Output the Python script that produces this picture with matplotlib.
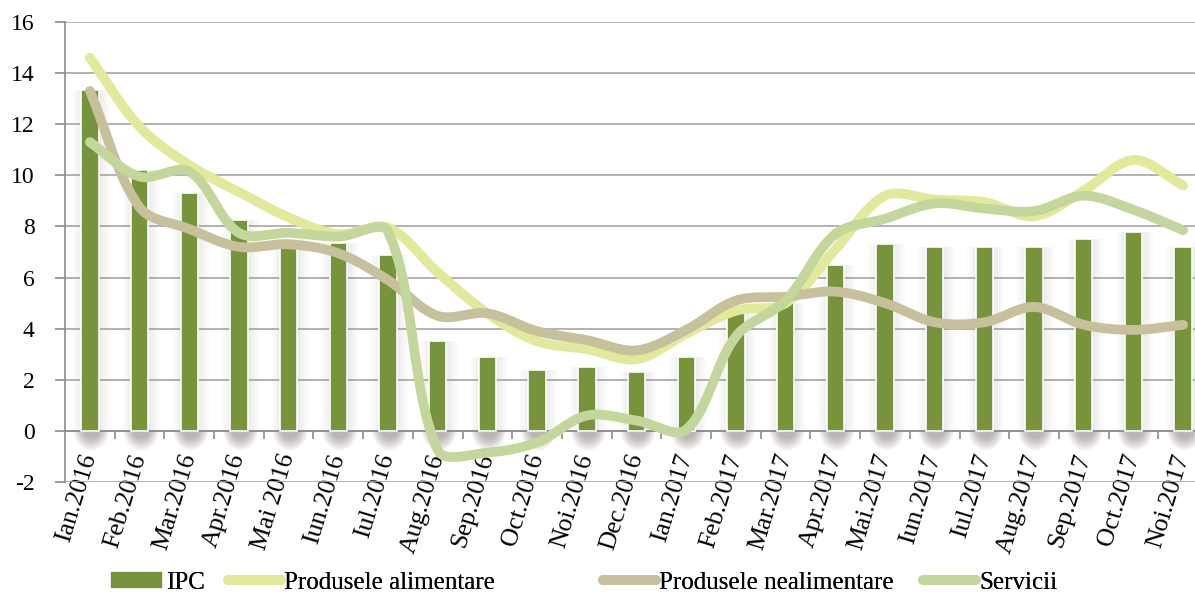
import matplotlib.pyplot as plt
import numpy as np
from matplotlib.patches import Ellipse, Rectangle

months = ["Ian.2016", "Feb.2016", "Mar.2016", "Apr.2016", "Mai 2016", "Iun.2016",
          "Iul.2016", "Aug.2016", "Sep.2016", "Oct.2016", "Noi.2016", "Dec.2016",
          "Ian.2017", "Feb.2017", "Mar.2017", "Apr.2017", "Mai.2017", "Iun.2017",
          "Iul.2017", "Aug.2017", "Sep.2017", "Oct.2017", "Noi.2017"]

ipc = [13.35, 10.2, 9.3, 8.25, 7.5, 7.35, 6.9, 3.5, 2.9, 2.4, 2.5, 2.3,
       2.9, 4.6, 5.0, 6.5, 7.3, 7.2, 7.2, 7.2, 7.5, 7.8, 7.2]
alimentare = [14.6, 11.9, 10.4, 9.35, 8.35, 7.7, 7.95, 6.2, 4.6, 3.5, 3.2, 2.8,
              3.8, 4.7, 5.0, 7.1, 9.2, 9.05, 8.95, 8.4, 9.4, 10.6, 9.6]
nealimentare = [13.3, 8.75, 7.9, 7.2, 7.3, 6.95, 5.9, 4.5, 4.6, 3.9, 3.55, 3.15,
                3.95, 5.1, 5.25, 5.45, 5.0, 4.25, 4.25, 4.85, 4.15, 3.95, 4.15]
servicii = [11.3, 9.95, 10.15, 7.75, 7.75, 7.6, 7.8, -0.75, -0.85, -0.45, 0.6, 0.4,
            0.05, 3.7, 5.1, 7.7, 8.3, 8.9, 8.7, 8.6, 9.2, 8.65, 7.85]

c_bar = "#77933c"
c_alim = "#e2e99a"
c_nealim = "#c7c09c"
c_serv = "#c3d69b"

# pixel size of one x unit and one y unit, used to weight the smoothing
PX_X, PX_Y = 49.7, 25.56


def smooth(y, n=30):
    # bezier through the points, tangents weighted by neighbouring segment lengths
    pts = np.column_stack([np.arange(len(y), dtype=float), np.asarray(y, float)])
    scale = np.array([PX_X, PX_Y])
    m = len(pts)
    cin, cout = pts.copy(), pts.copy()
    for i in range(m):
        a = pts[max(i - 1, 0)]
        b = pts[min(i + 1, m - 1)]
        tan = b - a
        d1 = np.linalg.norm((pts[i] - a) * scale)
        d2 = np.linalg.norm((b - pts[i]) * scale)
        if d1 + d2 == 0:
            continue
        cout[i] = pts[i] + tan * d2 / (d1 + d2) / 3
        cin[i] = pts[i] - tan * d1 / (d1 + d2) / 3
    t = np.linspace(0, 1, n, endpoint=False)[:, None]
    out = []
    for i in range(m - 1):
        p1, c1, c2, p2 = pts[i], cout[i], cin[i + 1], pts[i + 1]
        out.append((1 - t) ** 3 * p1 + 3 * (1 - t) ** 2 * t * c1
                   + 3 * (1 - t) * t ** 2 * c2 + t ** 3 * p2)
    out.append(pts[-1:])
    s = np.vstack(out)
    return s[:, 0], s[:, 1]


plt.rcParams['font.family'] = ['Liberation Serif', 'DejaVu Serif']

fig = plt.figure(figsize=(11.95, 5.94), dpi=100)
ax = fig.add_axes([0.0544, 0.1886, 0.9565, 0.7744])

x = np.arange(len(months))
ipc_arr = np.array(ipc)

# soft shadow around the bars
for k in range(5):
    ax.bar(x + 0.03, ipc_arr, width=0.38 + 0.09 * k, color="#9a9090",
           alpha=0.035, linewidth=0, zorder=1)

# blurred blob just under the axis
below = Rectangle((-1, -2), len(months) + 2, 2, transform=ax.transData)
for xi in x:
    for k in range(7):
        e = Ellipse((xi + 0.03, 0.05), width=0.7 - 0.06 * k, height=1.6 - 0.15 * k,
                    facecolor="#6e5a5a", alpha=0.08, linewidth=0, zorder=1)
        ax.add_patch(e)
        e.set_clip_path(below)

bars = ax.bar(x, ipc, width=0.35, color=c_bar, edgecolor="white", linewidth=1.2,
              zorder=3, label="IPC")

handles = [bars]
for vals, col, name in [(alimentare, c_alim, "Produsele alimentare"),
                        (nealimentare, c_nealim, "Produsele nealimentare"),
                        (servicii, c_serv, "Servicii")]:
    sx, sy = smooth(vals)
    ln, = ax.plot(sx, sy, color=col, lw=7, solid_capstyle="round", zorder=4, label=name)
    handles.append(ln)

ax.set_xlim(-0.5, len(months) - 0.5)
ax.set_ylim(-2, 16)
ax.set_yticks(range(-2, 17, 2))
ax.set_yticklabels([str(v) for v in range(-2, 17, 2)])
ax.yaxis.grid(True, color="#a6a6a6", lw=1.2, zorder=0)
ax.set_axisbelow(True)

ax.spines['top'].set_visible(False)
ax.spines['right'].set_visible(False)
ax.spines['bottom'].set_position(('data', 0))
ax.spines['bottom'].set_color("#8c8c8c")
ax.spines['bottom'].set_linewidth(1.2)
ax.spines['bottom'].set_zorder(2)
ax.spines['left'].set_color("#8c8c8c")
ax.spines['left'].set_linewidth(1.2)

ax.set_xticks(x)
ax.set_xticklabels(months, rotation=73, ha="right", va="center", rotation_mode="anchor",
                   fontsize=18.5)
ax.set_xticks(x[:-1] + 0.5, minor=True)
ax.tick_params(axis='x', which='major', length=0, pad=17)
ax.tick_params(axis='x', which='minor', length=6, color="#8c8c8c", width=1.2)
ax.tick_params(axis='y', length=7, color="#8c8c8c", width=1.2, labelsize=17, pad=15)

# one legend per entry, spaced as in the original
legend_x = [110, 228, 603, 923]
for h, lx in zip(handles, legend_x):
    leg = fig.legend(handles=[h], loc="center left", bbox_to_anchor=(lx / 1195, 0.019),
                     frameon=False, fontsize=18, handlelength=2.1, handletextpad=0.15,
                     borderaxespad=0, borderpad=0)
    fig.add_artist(leg)

fig.savefig("out.png", dpi=100)
